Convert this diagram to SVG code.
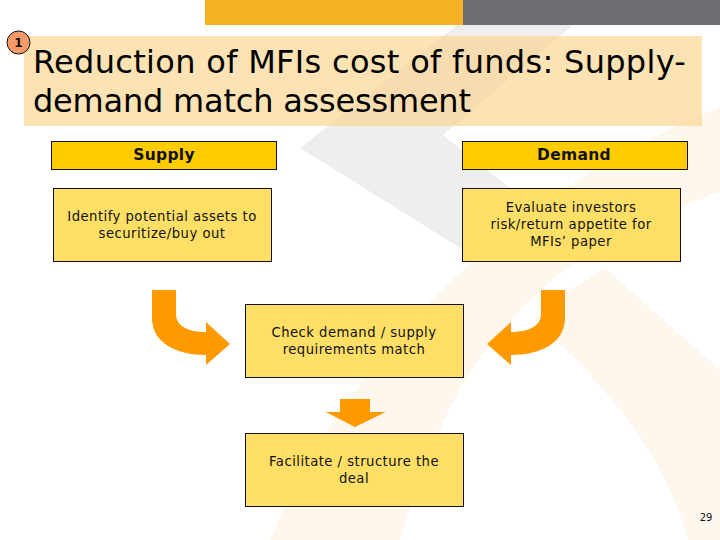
<svg xmlns="http://www.w3.org/2000/svg" width="720" height="540" viewBox="0 0 720 540">
<style>
text{font-family:"DejaVu Sans","Liberation Sans",sans-serif;fill:#111;text-anchor:middle}
.h{fill:#ffcc00;stroke:#111;stroke-width:1}
.b{fill:#ffdf66;stroke:#111;stroke-width:1}
.ht{font-weight:bold;font-size:15.5px;letter-spacing:.3px}
.bt{font-size:13.2px;letter-spacing:.47px}
.tt{font-size:32px;text-anchor:start;letter-spacing:.31px;fill:#000}
.arrow{fill:#ff9900}
.wm{fill:#fef7ee}
</style>
<rect width="720" height="540" fill="#fff"/>
<g id="background">
<path class="wm" d="M270,540 C300,470 330,420 367,377 C400,335 430,300 463,270 C510,225 560,190 610,160 C650,137 690,120 720,107 V192 C690,203 650,218 610,240 C570,262 530,295 490,345 C450,395 420,470 400,540 Z"/>
<path class="wm" d="M605,268 L720,370 V540 H688 C670,470 620,400 555,340 L545,305 Z"/>
<path fill="#eeeeef" d="M300,148 L457,25 H573 L443,135 L510,188 L470,254 Z"/>
<rect x="205" y="0" width="258" height="25" fill="#f7b125"/>
<rect x="463" y="0" width="257" height="25" fill="#6d6e71"/>
</g>
<g id="title">
<rect x="24" y="36" width="678" height="90" fill="#fcd082" fill-opacity="0.6"/>
<text class="tt" x="33" y="73">Reduction of MFIs cost of funds: Supply-</text>
<text class="tt" x="33" y="112" style="letter-spacing:-.21px">demand match assessment</text>
</g>
<g id="badge">
<circle cx="18.500" cy="42.500" r="11.500" fill="#f79a6a" stroke="#111" stroke-width="1"/>
<text x="18.500" y="47" font-size="12" font-weight="bold">1</text>
</g>
<g id="connectors">
<path class="arrow" d="M152,290 H176 V314 C176,326 188,332 206,332 V322 L230,344 L206,365 V355 C175,355 152,342 152,318 Z"/>
<path class="arrow" d="M565,290 H541 V314 C541,326 529,332 511,332 V322 L487,344 L511,365 V355 C542,355 565,342 565,318 Z"/>
<path class="arrow" d="M340,399 H370 V412 H385.700 L355,427 L325.700,412 H340 Z"/>
</g>
<g id="supply"><rect class="h" x="51.500" y="141.500" width="225" height="28"/><text class="ht" x="164" y="160">Supply</text></g>
<g id="demand"><rect class="h" x="462.500" y="141.500" width="225" height="28"/><text class="ht" x="574" y="160">Demand</text></g>
<g id="identify"><rect class="b" x="53.500" y="188.500" width="218" height="73"/><text class="bt" x="162" y="221">Identify potential assets to</text><text class="bt" x="162" y="238">securitize/buy out</text></g>
<g id="evaluate"><rect class="b" x="462.500" y="188.500" width="218" height="73"/><text class="bt" x="571" y="212">Evaluate investors</text><text class="bt" x="571" y="229">risk/return appetite for</text><text class="bt" x="571" y="246">MFIs’ paper</text></g>
<g id="check"><rect class="b" x="245.500" y="304.500" width="218" height="73"/><text class="bt" x="354" y="337">Check demand / supply</text><text class="bt" x="354" y="354">requirements match</text></g>
<g id="facilitate"><rect class="b" x="245.500" y="433.500" width="218" height="73"/><text class="bt" x="354" y="466">Facilitate / structure the</text><text class="bt" x="354" y="483">deal</text></g>
<text x="706" y="521" font-size="10">29</text>
</svg>
